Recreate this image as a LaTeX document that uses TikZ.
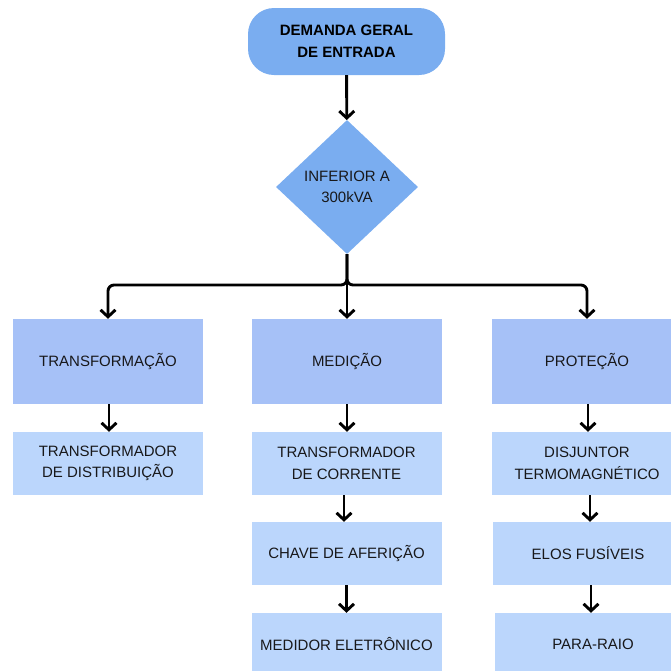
\documentclass[tikz,border=0pt]{standalone}
\usepackage{fontspec}
\setmainfont{Liberation Sans}
\usetikzlibrary{shapes.geometric,arrows.meta}
\definecolor{topblue}{RGB}{122,173,240}
\definecolor{midblue}{RGB}{166,193,247}
\definecolor{lightblue}{RGB}{187,214,252}
\definecolor{ink}{RGB}{24,24,26}
\tikzset{
  every node/.style={font=\fontsize{15}{21.5}\selectfont, text=ink, align=center, inner sep=0pt},
  startbox/.style={fill=topblue, rounded corners=26pt, minimum width=197pt, minimum height=67pt,
    font=\fontsize{15}{22}\selectfont\bfseries, text=black},
  decision/.style={diamond, fill=topblue, minimum width=142pt, minimum height=134pt},
  groupbox/.style={fill=midblue, minimum width=190pt, minimum height=85pt},
  itembox/.style={fill=lightblue, minimum width=190pt, minimum height=63pt},
  flow/.style={line width=2.9pt, -{Straight Barb[length=7pt,width=15pt]}},
}
\begin{document}
\begin{tikzpicture}[x=1pt,y=-1pt]
\useasboundingbox (0,0) rectangle (671,670);

% start and decision
\node[startbox] (start) at (346.5,41.5) {DEMANDA GERAL\\DE ENTRADA};
\node[decision] (dec) at (347,187) {INFERIOR A\\300kVA};

% groups
\node[groupbox] (g1) at (108,361.5) {TRANSFORMAÇÃO};
\node[groupbox] (g2) at (347,361.5) {MEDIÇÃO};
\node[groupbox] (g3) at (587,361.5) {PROTEÇÃO};

% items
\node[itembox] (a1) at (108,463.5) {TRANSFORMADOR\\DE DISTRIBUIÇÃO};
\node[itembox] (b1) at (346.5,463.5) {TRANSFORMADOR\\DE CORRENTE};
\node[itembox] (c1) at (587,463.5) {DISJUNTOR\\TERMOMAGNÉTICO};
\node[itembox] (b2) at (346.5,553.5) {CHAVE DE AFERIÇÃO};
\node[itembox] (c2) at (588,553.5) {ELOS FUSÍVEIS};
\node[itembox] (b3) at (346.5,644.5) {MEDIDOR ELETRÔNICO};
\node[itembox, minimum width=196pt] (c3) at (593,644.5) {PARA-RAIO};

% connectors
\coordinate (bus) at (347,285);
\draw[flow] (start) -- (dec);
\draw[flow, rounded corners=6pt] (dec.south) |- (g1.north |- bus) -- (g1.north);
\draw[flow, rounded corners=6pt] (dec.south) |- (g3.north |- bus) -- (g3.north);
\draw[flow] (dec.south) -- (g2.north);

\draw[flow] ([xshift=1pt]g1.south) -- ([xshift=1pt]g1.south |- a1.north);
\draw[flow] (g2.south) -- (g2.south |- b1.north);
\draw[flow] ([xshift=1pt]g3.south) -- ([xshift=1pt]g3.south |- c1.north);
\draw[flow] ([xshift=-2.5pt]b1.south) -- ([xshift=-2.5pt]b1.south |- b2.north);
\draw[flow] ([xshift=3pt]c1.south) -- ([xshift=3pt]c1.south |- c2.north);
\draw[flow] (b2.south) -- (b2.south |- b3.north);
\draw[flow] ([xshift=3pt]c2.south) -- ([xshift=3pt]c2.south |- c3.north);
\end{tikzpicture}
\end{document}
